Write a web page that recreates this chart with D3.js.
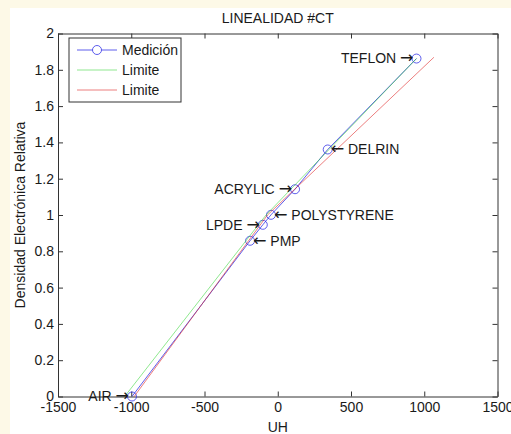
<!DOCTYPE html>
<html>
<head>
<meta charset="utf-8">
<script src="https://cdn.jsdelivr.net/npm/d3@7"></script>
<style>
  body { margin: 0; background: #fdf9e7; }
  text { font-family: "Liberation Sans", Arial, sans-serif; fill: #1a1a1a; }
</style>
</head>
<body>
<div id="chart"></div>
<script>

const width = 511, height = 434;

// DATOS
const materials = ["AIR", "PMP", "LPDE", "POLYSTYRENE", "ACRYLIC", "DELRIN", "TEFLON"];
const uh = [-995, -189, -102, -46, 118, 341, 947];
const density = [0, 0.858, 0.946, 1.001, 1.142, 1.361, 1.862];
const labelSide = ["left", "right", "left", "right", "left", "right", "left"];

// limites (verde / rojo)
const limitGreenUH = [-1045, -80, 947];
const limitGreenDen = [0, 1, 1.862];
const limitRedUH = [-980, -70, 1066];
const limitRedDen = [0, 1, 1.869];

const xTicks = [-1500, -1000, -500, 0, 500, 1000, 1500];
const yTicks = [0, 0.2, 0.4, 0.6, 0.8, 1, 1.2, 1.4, 1.6, 1.8, 2];

const legendNames = ["Medición", "Limite", "Limite"];

const colBlue = "#2a2ae6", colGreen = "#33d633", colRed = "#e02a2a";

let svg = d3.select("#chart")
	.append("svg")
	.attr("width", width)
	.attr("height", height);

// fondo blanco de la figura
svg.append("rect")
	.attr("x", 10).attr("y", 8)
	.attr("width", width - 10).attr("height", height - 8)
	.style("fill", "#ffffff");

const x = d3.scaleLinear().domain([-1500, 1500]).range([58, 497.5]);
const y = d3.scaleLinear().domain([0, 2]).range([396.5, 33.5]);

const fmt = d3.format("~g");

// EJES (ticks hacia dentro, caja completa)
let axes = svg.append("g").style("font-size", "14px");

let gx = axes.append("g")
	.attr("transform", `translate(0,${y(0)})`)
	.call(d3.axisBottom(x).tickValues(xTicks).tickSizeInner(-5).tickSizeOuter(0).tickFormat(d => String(d)));

let gxTop = axes.append("g")
	.attr("transform", `translate(0,${y(2)})`)
	.call(d3.axisTop(x).tickValues(xTicks).tickSizeInner(-5).tickSizeOuter(0).tickFormat(""));

let gy = axes.append("g")
	.attr("transform", `translate(${x(-1500)},0)`)
	.call(d3.axisLeft(y).tickValues(yTicks).tickSizeInner(-5).tickSizeOuter(0).tickPadding(4).tickFormat(fmt));

let gyRight = axes.append("g")
	.attr("transform", `translate(${x(1500)},0)`)
	.call(d3.axisRight(y).tickValues(yTicks).tickSizeInner(-5).tickSizeOuter(0).tickFormat(""));

axes.selectAll("path.domain").style("stroke", "#333").style("stroke-width", 1);
axes.selectAll(".tick line").style("stroke", "#333");
axes.selectAll(".tick text")
	.style("font-family", "'Liberation Sans', Arial, sans-serif")
	.style("font-size", "14px")
	.style("fill", "#1a1a1a");
gx.selectAll(".tick text").attr("y", 4).attr("dy", "0.85em");

// TITULO Y ETIQUETAS
svg.append("text")
	.attr("x", (x(-1500) + x(1500)) / 2)
	.attr("y", 23)
	.attr("text-anchor", "middle")
	.style("font-size", "14px")
	.text("LINEALIDAD #CT");

svg.append("text")
	.attr("x", (x(-1500) + x(1500)) / 2)
	.attr("y", 432)
	.attr("text-anchor", "middle")
	.style("font-size", "14px")
	.text("UH");

svg.append("text")
	.attr("transform", `translate(25,${(y(0) + y(2)) / 2}) rotate(-90)`)
	.attr("text-anchor", "middle")
	.style("font-size", "14px")
	.text("Densidad Electrónica Relativa");

// LINEAS
const line = d3.line().x(d => x(d[0])).y(d => y(d[1]));

let plot = svg.append("g");

plot.append("path")
	.datum(uh.map((v, i) => [v, density[i]]))
	.attr("d", line)
	.style("fill", "none").style("stroke", colBlue).style("stroke-width", 1).style("stroke-opacity", 0.75);

plot.selectAll("circle.med")
	.data(uh.map((v, i) => [v, density[i]]))
	.enter()
	.append("circle")
	.attr("class", "med")
	.attr("cx", d => x(d[0]))
	.attr("cy", d => y(d[1]))
	.attr("r", 4.5)
	.style("fill", "none").style("stroke", colBlue).style("stroke-opacity", 0.75);

plot.append("path")
	.datum(limitGreenUH.map((v, i) => [v, limitGreenDen[i]]))
	.attr("d", line)
	.style("fill", "none").style("stroke", colGreen).style("stroke-width", 1).style("stroke-opacity", 0.55);

plot.append("path")
	.datum(limitRedUH.map((v, i) => [v, limitRedDen[i]]))
	.attr("d", line)
	.style("fill", "none").style("stroke", colRed).style("stroke-width", 1).style("stroke-opacity", 0.6);

// ETIQUETAS DE MATERIALES (texto + flecha)
let labels = plot.selectAll("text.mat")
	.data(materials)
	.enter()
	.append("text")
	.attr("class", "mat")
	.attr("x", (d, i) => x(uh[i]) + (labelSide[i] == "left" ? -3 : 3))
	.attr("y", (d, i) => y(density[i]))
	.attr("dy", "0.35em")
	.attr("text-anchor", (d, i) => labelSide[i] == "left" ? "end" : "start")
	.style("font-size", "14px");

labels.each(function (d, i) {
	let t = d3.select(this);
	if (labelSide[i] == "left") {
		t.append("tspan").text(d + " ");
		t.append("tspan").style("font-family", "'DejaVu Sans'").style("font-size", "16px").text("\u2192");
	} else {
		t.append("tspan").style("font-family", "'DejaVu Sans'").style("font-size", "16px").text("\u2190");
		t.append("tspan").text(" " + d);
	}
});

// LEYENDA
let legend = svg.append("g");
legend.append("rect")
	.attr("x", 69).attr("y", 38).attr("width", 112).attr("height", 64)
	.style("fill", "#ffffff").style("stroke", "#333").style("stroke-width", 1);

const legendCols = [colBlue, colGreen, colRed];
const legendOp = [0.75, 0.55, 0.6];

legendNames.forEach((name, i) => {
	let ly = 50 + i * 20;
	legend.append("line")
		.attr("x1", 77).attr("x2", 117).attr("y1", ly).attr("y2", ly)
		.style("stroke", legendCols[i]).style("stroke-opacity", legendOp[i]);
	if (i == 0) {
		legend.append("circle")
			.attr("cx", 97).attr("cy", ly).attr("r", 4.5)
			.style("fill", "#ffffff").style("stroke", colBlue).style("stroke-opacity", 0.75);
	}
	legend.append("text")
		.attr("x", 122).attr("y", ly).attr("dy", "0.35em")
		.style("font-size", "14px")
		.text(name);
});

</script>
</body>
</html>
